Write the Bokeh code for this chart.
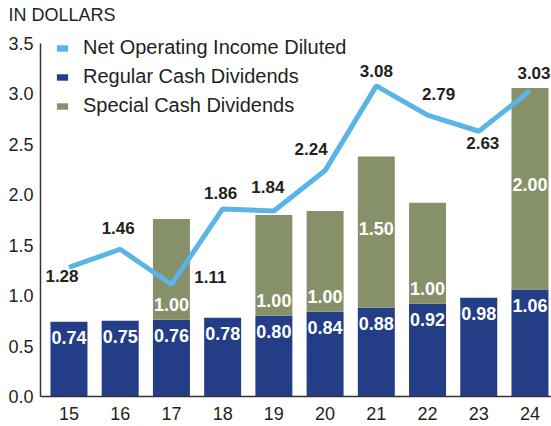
from bokeh.plotting import figure
from bokeh.models import (ColumnDataSource, FixedTicker, NumeralTickFormatter,
                          Legend, LegendItem, Range1d)
from bokeh.core.properties import value
from bokeh.embed import file_html
from bokeh.resources import INLINE

# ---- data ----
years = [15, 16, 17, 18, 19, 20, 21, 22, 23, 24]
regular = [0.74, 0.75, 0.76, 0.78, 0.80, 0.84, 0.88, 0.92, 0.98, 1.06]
special = [0.00, 0.00, 1.00, 0.00, 1.00, 1.00, 1.50, 1.00, 0.00, 2.00]
noi = [1.28, 1.46, 1.11, 1.86, 1.84, 2.24, 3.08, 2.79, 2.63, 3.03]
y_ticks = [0.0, 0.5, 1.0, 1.5, 2.0, 2.5, 3.0, 3.5]

# ---- styles ----
NAVY = "#233D87"
OLIVE = "#86916A"
BLUE = "#5AB4E5"
TEXT = "#231F20"
FONT = "Liberation Sans"
# label offsets for the line values (pixels, dy positive = down)
noi_dx = [-7, -2, 39, -2, -6, -14, 0, 11, 4, 4]
noi_dy = [9, -21, -8, -16, -24, -22, -15, -21, 12, -18]

p = figure(width=551, height=426, output_backend="svg", toolbar_location=None,
           x_range=Range1d(14.444, 24.42), y_range=Range1d(0, 3.6686),
           min_border_left=40, min_border_right=0, min_border_top=26,
           min_border_bottom=30)
p.outline_line_color = None
p.xgrid.visible = False
p.ygrid.visible = False
p.background_fill_color = "white"

for ax in (p.xaxis[0], p.yaxis[0]):
    ax.axis_line_color = "#333333"
    ax.axis_line_width = 1.5
    ax.major_tick_line_color = None
    ax.minor_tick_line_color = None
    ax.major_tick_out = 0
    ax.major_tick_in = 0
    ax.major_label_text_font = FONT
    ax.major_label_text_font_size = "18px"
    ax.major_label_text_color = TEXT

p.xaxis.ticker = FixedTicker(ticks=years)
p.xaxis.major_label_standoff = 10
p.yaxis.ticker = FixedTicker(ticks=y_ticks)
p.yaxis.formatter = NumeralTickFormatter(format="0.0")
p.yaxis.major_label_standoff = 7
p.yaxis.bounds = (0, 3.5)

p.title.text = "IN DOLLARS"
p.title.align = "left"
p.title.offset = -32
p.title.standoff = 4
p.title.text_font = FONT
p.title.text_font_size = "18px"
p.title.text_font_style = "normal"
p.title.text_color = TEXT

bar_w = 0.722
src = ColumnDataSource(dict(
    x=years, reg=regular, sp=special,
    top=[r + s for r, s in zip(regular, special)],
    reg_lab=[f"{r:.2f}" for r in regular],
))
r_reg = p.vbar(x="x", bottom=0, top="reg", width=bar_w, source=src,
               fill_color=NAVY, line_color=None)
r_sp = p.vbar(x="x", bottom="reg", top="top", width=bar_w, source=src,
              fill_color=OLIVE, line_color=None)

# regular labels
p.text(x="x", y="reg", text="reg_lab", source=src, y_offset=16,
       text_align="center", text_baseline="middle", text_color="white",
       text_font=value(FONT), text_font_style="bold", text_font_size="18px")

# special labels
sx, sy, st, so = [], [], [], []
for x, r, s in zip(years, regular, special):
    if s > 0:
        sx.append(x)
        if s > 1:
            sy.append(r + s / 2)
            so.append(-4)
        else:
            sy.append(r)
            so.append(-15)
        st.append(f"{s:.2f}")
ssrc = ColumnDataSource(dict(x=sx, y=sy, t=st, o=so))
p.text(x="x", y="y", text="t", y_offset="o", source=ssrc,
       text_align="center", text_baseline="middle", text_color="white",
       text_font=value(FONT), text_font_style="bold", text_font_size="18px")

# line
lsrc = ColumnDataSource(dict(x=years, y=noi, t=[f"{v:.2f}" for v in noi],
                             dx=noi_dx, dy=noi_dy))
r_line = p.line(x="x", y="y", source=lsrc, line_color=BLUE, line_width=5)
p.text(x="x", y="y", text="t", x_offset="dx", y_offset="dy", source=lsrc,
       text_align="center", text_baseline="middle", text_color=TEXT,
       text_font=value(FONT), text_font_style="bold", text_font_size="17px")

# legend swatch for the line series (hidden renderer, square swatch only)
swatch = p.vbar(x="x", top="y", width=0.5, source=lsrc, fill_color=BLUE,
                line_color=None, visible=False)
legend = Legend(items=[
    LegendItem(label="Net Operating Income Diluted", renderers=[swatch]),
    LegendItem(label="Regular Cash Dividends", renderers=[r_reg]),
    LegendItem(label="Special Cash Dividends", renderers=[r_sp]),
], location=(15, 276), orientation="vertical")
legend.glyph_width = 14
legend.glyph_height = 8
legend.label_height = 29
legend.spacing = 0
legend.padding = 0
legend.margin = 0
legend.label_standoff = 14
legend.border_line_color = None
legend.background_fill_alpha = 0
legend.inactive_fill_alpha = 0
legend.label_text_font = FONT
legend.label_text_font_size = "20px"
legend.label_text_color = TEXT
p.add_layout(legend, "center")

open("out.html", "w").write(file_html(p, INLINE))
